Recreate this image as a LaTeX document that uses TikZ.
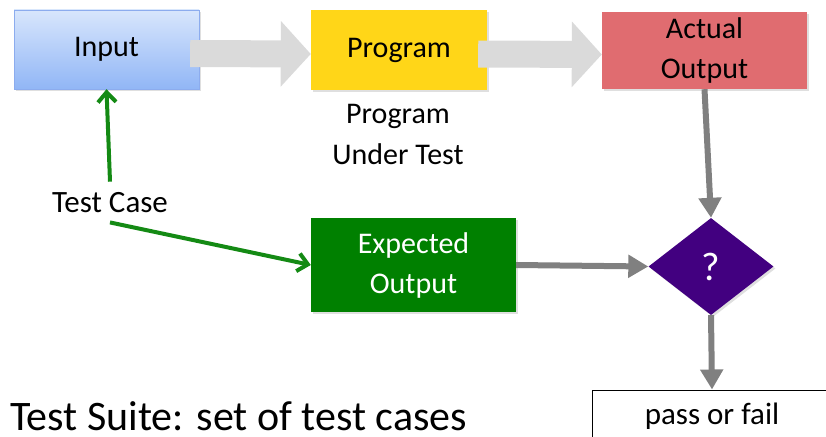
\documentclass[tikz,border=0pt]{standalone}
\usepackage{fontspec}
\setmainfont{Carlito}
\usepackage{tikz}
\usetikzlibrary{positioning}
\usetikzlibrary{arrows.meta,shapes.geometric,shadows}

\definecolor{boxtop}{RGB}{216,230,252}
\definecolor{boxbot}{RGB}{145,182,246}
\definecolor{boxline}{RGB}{140,172,238}
\definecolor{progyellow}{RGB}{255,214,24}
\definecolor{outred}{RGB}{224,108,112}
\definecolor{expgreen}{RGB}{0,128,0}
\definecolor{arrgreen}{RGB}{20,138,20}
\definecolor{qpurple}{RGB}{66,0,128}
\definecolor{arrgray}{RGB}{128,128,128}
\definecolor{blockgray}{RGB}{218,218,218}

\tikzset{
    box/.style={shape=rectangle, inner sep=0pt, align=center,
        font=\fontsize{30}{40}\selectfont,
        drop shadow={shadow xshift=2pt, shadow yshift=-2pt, opacity=0.25}},
    block/.style={line width=27pt, blockgray, -{Triangle[length=30pt,width=64pt]}},
    grayarrow/.style={line width=6pt, arrgray, -{Triangle[length=20pt,width=22pt]}},
    greenarrow/.style={line width=4pt, arrgreen, -{Straight Barb[length=10pt,width=18pt]}}
}

\begin{document}
\begin{tikzpicture}[x=1pt,y=-1pt]
    \useasboundingbox (0,0) rectangle (826,436);
    \begin{scope}[every node/.style={box}]
        \node(input)[top color=boxtop, bottom color=boxbot, draw=boxline,
            minimum width=185pt, minimum height=79pt] at (106.5,49.5) {Input};
        \node(prog)[fill=progyellow, minimum width=176pt, minimum height=80pt]
            at (399,50) {Program};
        \node(actual)[fill=outred, minimum width=205pt, minimum height=77pt]
            at (704.5,50.5) {Actual\\Output};
        \node(expected)[fill=expgreen, text=white, minimum width=205pt, minimum height=94pt]
            at (413.5,265) {Expected\\Output};
        \node(check)[shape=diamond, fill=qpurple, text=white, aspect=1.29,
            font=\fontsize{40}{40}\selectfont,
            minimum width=125pt, minimum height=97pt] at (711,266.5) {?};
    \end{scope}
    \node(under)[align=center, font=\fontsize{30}{41}\selectfont] at (398,134) {Program\\Under Test};
    \node(testcase)[anchor=base, font=\fontsize{31}{36}\selectfont, inner sep=2pt] at (110,212) {Test Case};
    \node(result)[draw, line width=1pt, minimum width=240pt, minimum height=52pt,
        font=\fontsize{31}{36}\selectfont] at (712,416) {pass or fail};
    \node(suite)[anchor=base west, font=\fontsize{42}{48}\selectfont, inner sep=0pt] at (10,430)
        {Test Suite: set of test cases};
    %Arrows
    \draw[block] ([xshift=-9pt,yshift=-4pt]input.east) -- ([yshift=-4pt]prog.west);
    \draw[block] ([xshift=-9pt,yshift=-4pt]prog.east) -- ([yshift=-4pt]actual.west);
    \draw[grayarrow] (actual.south) -- (check.north);
    \draw[grayarrow] (expected.east) -- (check.west);
    \draw[grayarrow] (check.south) -- (result.north);
    \draw[greenarrow] ([yshift=8pt]testcase.north) -- (input.south);
    \draw[greenarrow] ([yshift=-8pt]testcase.south) -- (expected.west);
\end{tikzpicture}
\end{document}
